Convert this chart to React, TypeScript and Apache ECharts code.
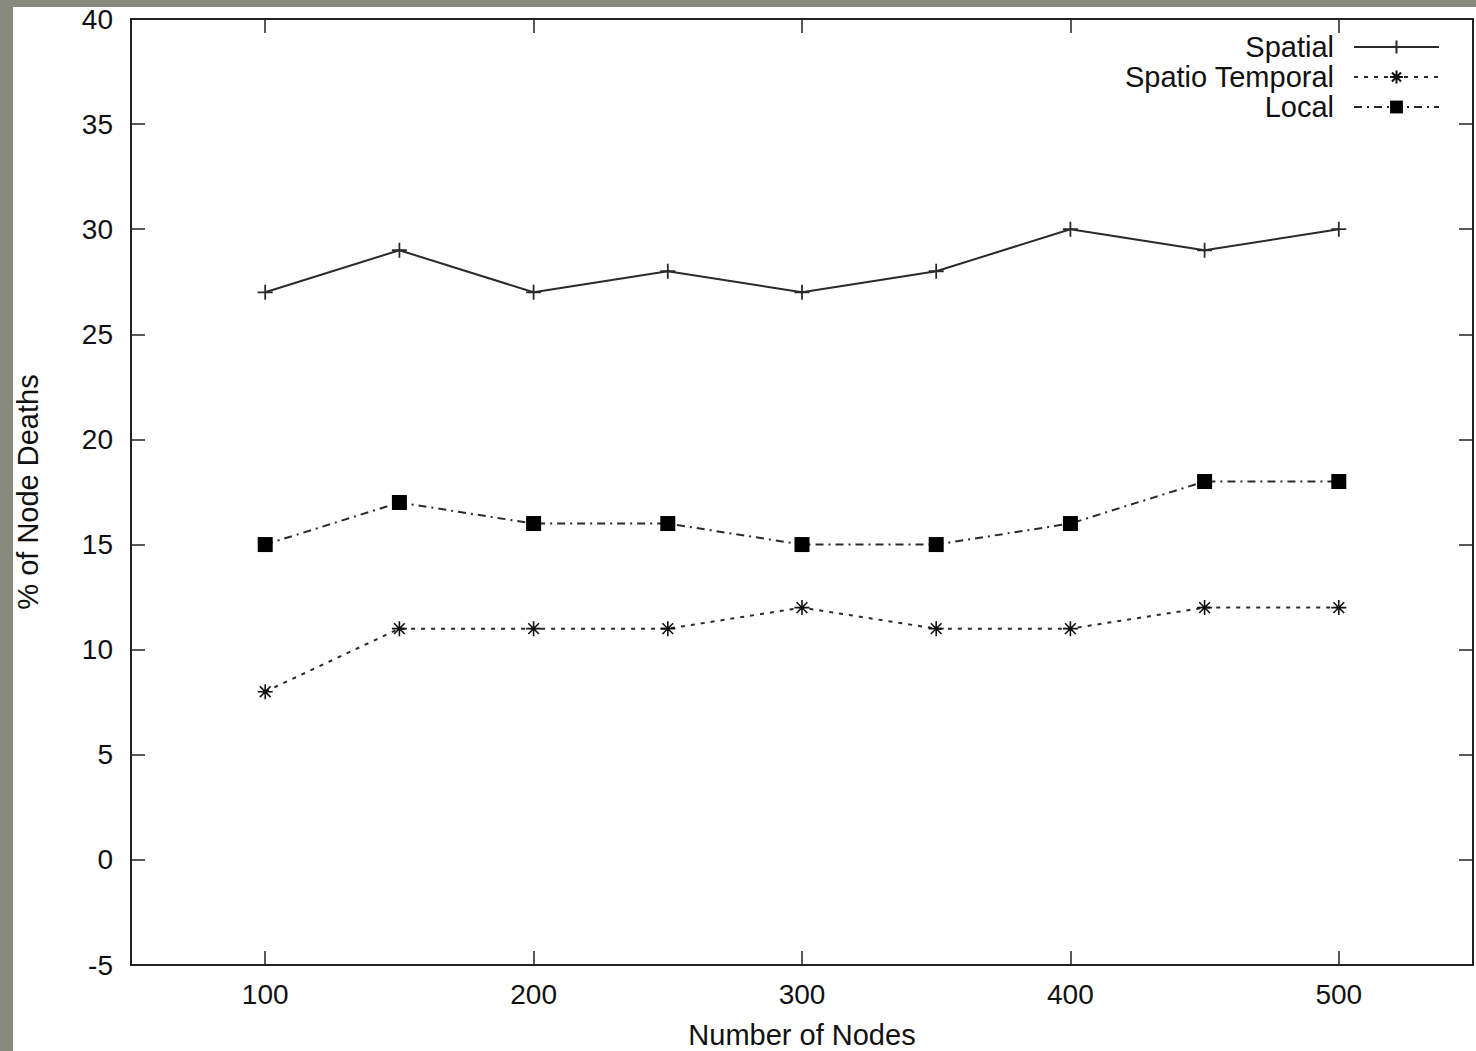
import React, { useEffect, useRef } from "react";
import * as echarts from "echarts";

const xValues = [100, 150, 200, 250, 300, 350, 400, 450, 500];
const spatial = [27, 29, 27, 28, 27, 28, 30, 29, 30];
const spatioTemporal = [8, 11, 11, 11, 12, 11, 11, 12, 12];
const local = [15, 17, 16, 16, 15, 15, 16, 18, 18];
const xTickValues = [100, 200, 300, 400, 500];
const seriesNames = ["Spatial", "Spatio Temporal", "Local"];

const FONT = "'Liberation Sans', Arial, Helvetica, sans-serif";
const INK = "#111";
const LINE = "#2a2a2a";
const PLUS = "path://M0,7H14M7,0V14";
const STAR = "path://M0,7H14M7,0V14M2,2L12,12M12,2L2,12";

export default function App() {
  const ref = useRef<HTMLDivElement>(null);
  useEffect(() => {
    document.body.style.margin = "0";
    if (!ref.current) return;
    const chart = echarts.init(ref.current, null, { renderer: "svg" });
    const toPairs = (arr: number[]) => xValues.map((x, i) => [x, arr[i]]);
    const frameAxisLine = { show: true, onZero: false, lineStyle: { color: "#222", width: 2 } };
    const tickInside = { show: true, inside: true, length: 14, lineStyle: { color: "#222", width: 1.5 } };
    chart.setOption({
      animation: false,
      backgroundColor: "#ffffff",
      textStyle: { fontFamily: FONT },
      graphic: [
        { type: "rect", shape: { x: 0, y: 0, width: 1476, height: 7 }, style: { fill: "#878a7c" }, silent: true },
        { type: "rect", shape: { x: 0, y: 0, width: 13, height: 1051 }, style: { fill: "#878a7c" }, silent: true },
      ],
      grid: { left: 131, top: 19, right: 3, bottom: 86, containLabel: false, outerBoundsMode: "none" },
      legend: {
        orient: "vertical",
        right: 36,
        top: 32,
        padding: 0,
        itemGap: 0,
        align: "right",
        itemWidth: 85,
        itemHeight: 16,
        data: seriesNames,
        textStyle: { fontFamily: FONT, fontSize: 29, color: INK, lineHeight: 30, padding: [0, 15, 0, 0] },
      },
      xAxis: [
        {
          type: "value",
          min: 50,
          max: 550,
          interval: 50,
          name: "Number of Nodes",
          nameLocation: "middle",
          nameGap: 55,
          nameTextStyle: { fontFamily: FONT, fontSize: 29, color: INK, lineHeight: 29 },
          axisLine: frameAxisLine,
          axisTick: { ...tickInside, customValues: xTickValues },
          axisLabel: { customValues: xTickValues, fontFamily: FONT, fontSize: 28, color: INK, margin: 15 },
          splitLine: { show: false },
        },
        {
          type: "value",
          position: "top",
          min: 50,
          max: 550,
          interval: 50,
          axisLine: frameAxisLine,
          axisTick: { ...tickInside, customValues: xTickValues },
          axisLabel: { show: false },
          splitLine: { show: false },
        },
      ],
      yAxis: [
        {
          type: "value",
          min: -5,
          max: 40,
          interval: 5,
          name: "% of Node Deaths",
          nameLocation: "middle",
          nameGap: 89,
          nameTextStyle: { fontFamily: FONT, fontSize: 29, color: INK },
          axisLine: frameAxisLine,
          axisTick: tickInside,
          axisLabel: { fontFamily: FONT, fontSize: 28, color: INK, margin: 18 },
          splitLine: { show: false },
        },
        {
          type: "value",
          position: "right",
          min: -5,
          max: 40,
          interval: 5,
          axisLine: frameAxisLine,
          axisTick: tickInside,
          axisLabel: { show: false },
          splitLine: { show: false },
        },
      ],
      series: [
        {
          name: seriesNames[0],
          type: "line",
          data: toPairs(spatial),
          symbol: PLUS,
          symbolSize: 15,
          showAllSymbol: true,
          lineStyle: { color: LINE, width: 2, type: "solid" },
          itemStyle: { color: LINE, borderColor: LINE, borderWidth: 1.8 },
        },
        {
          name: seriesNames[1],
          type: "line",
          data: toPairs(spatioTemporal),
          symbol: STAR,
          symbolSize: 15,
          showAllSymbol: true,
          lineStyle: { color: LINE, width: 2, type: [4, 6] },
          itemStyle: { color: "#111", borderColor: "#111", borderWidth: 1.6 },
        },
        {
          name: seriesNames[2],
          type: "line",
          data: toPairs(local),
          symbol: "rect",
          symbolSize: 15,
          showAllSymbol: true,
          lineStyle: { color: LINE, width: 2, type: [8, 5, 2, 5] },
          itemStyle: { color: "#000", borderWidth: 0 },
        },
      ],
    });
    return () => chart.dispose();
  }, []);
  return <div ref={ref} style={{ width: 1476, height: 1051 }} />;
}
